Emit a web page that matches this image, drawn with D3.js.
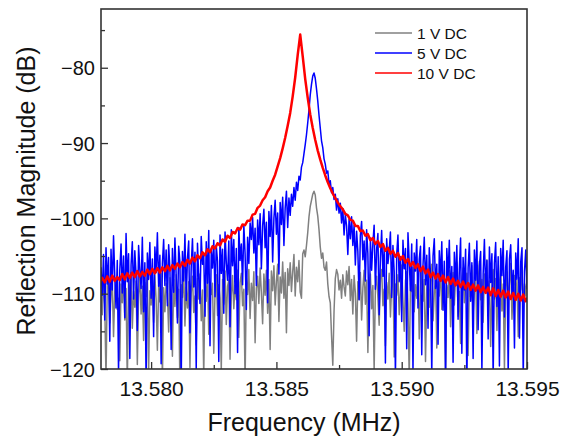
<!DOCTYPE html>
<html>
<head>
<meta charset="utf-8">
<script src="https://cdn.jsdelivr.net/npm/d3@7"></script>
<style>
  html, body { margin: 0; padding: 0; background: #fff; }
  svg { display: block; font-family: "Liberation Sans", Arial, sans-serif; }
</style>
</head>
<body>
<svg id="chart" width="574" height="441"></svg>
<script>
// ---- data ----
const seriesNames = ["1 V DC", "5 V DC", "10 V DC"];
const xTicks = [13.580, 13.585, 13.590, 13.595];
const yTicks = [-120, -110, -100, -90, -80];
const xMinorTicks = [13.5825, 13.5875, 13.5925];
const yMinorTicks = [-115, -105, -95, -85, -75];

// noisy traces sampled every 0.00005 MHz from 13.578 MHz
const noisyStart = 13.578, noisyStep = 0.00005;
const gray1V = [
-109.5,-112.8,-108.1,-111.4,-121.3,-109.0,-107.6,-113.9,-110.2,-108.4,
-115.7,-109.8,-107.9,-112.1,-110.6,-118.9,-108.7,-111.2,-107.4,-113.5,
-109.3,-122.0,-108.0,-110.9,-107.2,-114.6,-109.7,-111.8,-108.3,-119.4,
-110.1,-107.8,-112.7,-109.0,-116.2,-108.5,-110.4,-107.1,-120.7,-109.6,
-111.5,-108.2,-113.8,-107.6,-110.8,-117.5,-108.9,-111.1,-107.3,-121.6,
-109.2,-112.4,-108.6,-110.0,-115.1,-107.9,-109.8,-118.3,-108.1,-111.7,
-107.5,-113.2,-109.4,-122.5,-108.8,-110.5,-107.0,-114.3,-109.1,-111.9,
-108.4,-119.8,-109.9,-107.7,-112.5,-110.3,-116.8,-108.0,-110.7,-107.4,
-113.6,-109.5,-121.0,-108.3,-111.0,-107.2,-115.4,-109.2,-110.1,-108.6,
-117.9,-109.7,-107.5,-112.9,-108.8,-110.6,-120.2,-108.1,-111.4,-107.0,
-114.1,-109.0,-108.2,-118.7,-110.2,-107.6,-112.0,-108.9,-110.8,-106.9,
-115.8,-108.5,-107.3,-111.6,-109.4,-121.9,-108.0,-110.1,-106.8,-113.3,
-108.6,-110.9,-107.1,-116.5,-109.3,-107.7,-111.3,-106.6,-109.9,-114.0,
-107.4,-110.2,-106.9,-112.6,-108.1,-117.4,-107.0,-109.6,-106.3,-111.5,
-108.4,-106.1,-113.7,-107.8,-109.9,-105.8,-110.6,-107.2,-115.2,-106.7,
-108.9,-105.9,-109.7,-107.1,-104.8,-110.3,-106.5,-108.4,-105.6,-109.8,
-110.6,-104.7,-104.2,-105.1,-103.6,-101.9,-99.8,-98.4,-97.6,-96.8,-96.4,
-96.9,-98.6,-99.7,-101.5,-103.8,-105.3,-104.6,-106.5,-106.9,-105.8,
-108.7,-110.4,-111.2,-115.6,-119.5,-112.3,-108.0,-106.8,-107.4,-109.5,
-108.2,-110.6,-107.5,-109.1,-110.3,-107.0,-108.8,-106.4,-110.9,-108.1,
-112.7,-107.6,-109.9,-116.3,-108.4,-110.8,-107.2,-113.5,-109.3,-106.9,
-111.4,-108.2,-117.8,-109.6,-107.4,-112.0,-108.9,-120.3,-109.1,-107.7,
-110.5,-114.2,-108.0,-106.8,-111.6,-109.4,-116.9,-108.5,-110.7,-107.3,
-113.1,-109.0,-106.6,-118.4,-108.7,-110.2,-107.5,-112.8,-109.8,-106.2,
-110.9,-115.0,-108.3,-107.1,-111.3,-121.2,-108.6,-109.7,-106.5,-112.4,
-108.8,-110.6,-107.0,-116.0,-109.2,-106.7,-111.0,-108.1,-119.0,-109.5,
-107.4,-111.8,-108.5,-106.1,-113.6,-109.9,-107.6,-117.2,-108.4,-110.3,
-106.4,-112.1,-109.0,-107.8,-120.6,-108.9,-110.5,-106.9,-114.4,-109.3,
-107.2,-111.5,-108.0,-105.9,-113.0,-109.7,-116.6,-108.2,-106.6,-111.2,
-109.1,-107.3,-118.2,-108.6,-110.4,-106.3,-112.7,-109.5,-107.0,-115.3,
-108.9,-105.7,-110.8,-108.1,-113.8,-107.4,-109.6,-105.5,-111.9,-108.3,
-117.0,-109.2,-106.8,-110.7,-108.0,-114.9,-107.5,-109.8,-106.2,-112.3,
-108.7,-120.0,-109.4,-107.1,-111.1,-108.4,-106.0,-113.4,-109.0,-107.6,
-110.9,-108.2,-115.7,-107.9,-109.5,-106.5,-112.0,-108.7,-110.3,-107.3
];
const blue5V = [
-106.5,-110.2,-104.8,-113.5,-103.9,-108.7,-105.2,-116.3,-104.1,-109.5,
-102.3,-107.8,-111.9,-105.6,-120.5,-106.9,-103.4,-109.9,-105.0,-113.2,
-102.0,-108.4,-104.7,-118.6,-106.2,-103.1,-110.7,-104.3,-107.5,-114.9,
-103.6,-106.8,-109.3,-102.5,-112.4,-105.9,-121.8,-104.6,-108.1,-103.2,
-110.6,-105.4,-115.7,-103.8,-107.2,-101.9,-109.0,-104.9,-119.3,-106.0,
-102.8,-108.9,-104.2,-111.6,-103.5,-106.7,-117.4,-104.0,-109.8,-102.6,
-107.6,-113.9,-103.7,-105.8,-122.4,-104.4,-108.3,-102.1,-110.9,-105.3,
-103.0,-115.2,-106.4,-102.7,-109.1,-104.5,-120.1,-103.3,-107.9,-111.3,
-102.4,-106.1,-104.8,-113.0,-103.1,-108.6,-101.6,-116.9,-104.2,-106.6,
-102.9,-110.4,-103.6,-105.7,-119.0,-102.2,-107.3,-104.1,-112.6,-101.8,
-105.9,-108.2,-103.0,-114.4,-101.5,-106.3,-102.8,-110.0,-104.0,-117.8,
-101.2,-105.6,-103.4,-108.8,-100.9,-104.7,-112.1,-102.5,-106.0,-100.6,
-102.8,-99.9,-104.6,-101.3,-108.9,-100.2,-103.5,-99.4,-106.7,-101.0,
-98.8,-103.9,-100.5,-111.2,-99.1,-102.4,-98.3,-105.8,-100.0,-97.6,
-102.1,-99.3,-107.4,-97.9,-100.8,-97.2,-103.6,-98.6,-96.4,-101.2,
-97.3,-99.6,-96.8,-98.4,-95.9,-97.6,-95.2,-96.3,-94.4,-94.9,
-93.2,-92.6,-91.4,-90.2,-88.9,-87.3,-85.6,-83.6,-82.2,-81.1,-80.7,
-81.4,-82.8,-84.4,-86.3,-88.0,-89.7,-90.6,-92.1,-92.8,-94.0,
-93.7,-95.4,-95.0,-96.6,-95.9,-97.5,-96.8,-98.9,-97.4,-99.3,
-98.0,-100.6,-98.7,-102.2,-99.5,-101.0,-104.8,-100.1,-102.7,-99.8,
-103.6,-100.9,-106.2,-101.7,-104.4,-110.8,-102.3,-100.4,-105.5,-103.0,
-108.3,-101.5,-104.7,-115.6,-102.6,-106.9,-103.3,-100.9,-109.4,-104.1,
-102.0,-112.8,-105.3,-101.6,-107.7,-103.9,-119.2,-102.7,-106.0,-104.4,
-101.8,-110.5,-103.6,-107.1,-121.0,-104.8,-102.2,-108.4,-105.1,-113.7,
-102.9,-106.7,-104.0,-117.3,-101.9,-105.8,-109.6,-103.4,-120.4,-104.6,
-107.0,-102.8,-111.9,-105.4,-103.7,-118.1,-106.2,-102.5,-108.8,-104.9,
-114.6,-103.9,-107.5,-120.8,-105.0,-102.7,-109.3,-106.1,-116.7,-104.3,
-108.0,-103.1,-112.2,-105.7,-121.5,-104.0,-107.8,-102.9,-110.6,-106.4,
-119.1,-104.5,-108.7,-103.6,-113.4,-106.8,-102.6,-117.9,-105.2,-109.5,
-104.1,-122.0,-106.6,-103.3,-111.0,-105.9,-118.6,-104.2,-108.2,-103.0,
-114.8,-106.3,-104.4,-120.2,-107.4,-102.8,-109.9,-105.6,-116.0,-103.8,
-108.5,-104.7,-121.3,-106.0,-103.2,-111.7,-105.1,-119.6,-104.0,-107.6,
-102.9,-113.1,-106.5,-104.3,-120.7,-105.4,-103.5,-110.2,-106.9,-117.2,
-104.6,-108.1,-102.7,-115.9,-105.8,-103.9,-121.1,-107.0,-104.2,-109.4
];
// 10 V trace sampled every 0.0001 MHz from 13.57795 MHz
const redStart = 13.57795, redStep = 0.0001;
const red10V = [
-108.6,-107.9,-108.5,-107.7,-108.4,-107.6,-108.3,-107.8,-108.2,-107.4,
-108.1,-107.3,-107.9,-107.2,-107.8,-107.0,-107.7,-107.1,-107.6,-106.8,
-107.4,-106.7,-107.3,-106.6,-107.2,-106.5,-107.0,-106.3,-106.9,-106.2,
-106.7,-106.0,-106.5,-105.8,-106.3,-105.5,-106.0,-105.2,-105.7,-104.9,
-105.3,-104.5,-104.9,-104.1,-104.5,-103.7,-104.0,-103.3,-103.6,-102.8,
-103.1,-102.3,-102.6,-101.8,-102.0,-101.3,-101.5,-100.8,-100.9,-100.3,
-100.3,-99.5,-99.4,-98.6,-98.3,-97.6,-97.2,-96.4,-95.9,-95.0,
-94.2,-93.1,-92.0,-90.7,-89.3,-87.7,-86.0,-83.8,-81.3,-78.3,
-75.6,
-78.5,-81.5,-84.0,-86.2,-88.0,-89.6,-91.0,-92.2,-93.3,-94.3,
-95.2,-96.0,-96.7,-97.3,-97.9,-98.4,-98.8,-99.4,-99.6,-100.2,
-100.3,-101.0,-101.0,-101.7,-101.6,-102.3,-102.1,-102.9,-102.6,-103.4,
-103.0,-103.8,-103.4,-104.3,-103.9,-104.7,-104.3,-105.1,-104.6,-105.5,
-105.0,-105.9,-105.4,-106.3,-105.8,-106.6,-106.1,-107.0,-106.4,-107.3,
-106.8,-107.8,-107.2,-108.0,-107.4,-108.3,-107.6,-108.5,-107.8,-108.7,
-108.0,-108.9,-108.3,-109.1,-108.4,-109.3,-108.6,-109.5,-108.8,-109.6,
-108.9,-109.8,-109.1,-109.9,-109.2,-110.2,-109.3,-110.3,-109.5,-110.4,
-109.6,-110.5,-109.7,-110.7,-109.9,-110.8,-110.0,-110.9,-110.1,-111.0,
-110.4
];
const colors = ["#808080", "#0000ff", "#ff0000"];

// ---- layout ----
const svg = d3.select("#chart");
const margin = { left: 101, right: 527, top: 9, bottom: 369 };
const x = d3.scaleLinear().domain([13.578, 13.595]).range([margin.left, margin.right]);
const y = d3.scaleLinear().domain([-120, -72.2]).range([margin.bottom, margin.top]);

svg.append("defs").append("clipPath").attr("id", "plotClip")
  .append("rect")
  .attr("x", margin.left).attr("y", margin.top)
  .attr("width", margin.right - margin.left).attr("height", margin.bottom - margin.top);

const series = [
  { name: seriesNames[0], start: noisyStart, step: noisyStep, values: gray1V, color: colors[0], width: 1.5 },
  { name: seriesNames[1], start: noisyStart, step: noisyStep, values: blue5V, color: colors[1], width: 1.5 },
  { name: seriesNames[2], start: redStart, step: redStep, values: red10V, color: colors[2], width: 2.5 }
];

const plot = svg.append("g").attr("clip-path", "url(#plotClip)");
series.forEach(s => {
  const line = d3.line()
    .x((d, i) => x(s.start + s.step * i))
    .y(d => y(d));
  plot.append("path")
    .datum(s.values)
    .attr("fill", "none")
    .attr("stroke", s.color)
    .attr("stroke-width", s.width)
    .attr("stroke-linejoin", "round")
    .attr("d", line);
});

// axes
const axisColor = "#333";
const xAxis = d3.axisBottom(x).tickValues(xTicks).tickFormat(d3.format(".3f"))
  .tickSizeInner(-7).tickSizeOuter(0).tickPadding(12);
const gx = svg.append("g").attr("transform", `translate(0,${margin.bottom})`).call(xAxis);
const yAxis = d3.axisLeft(y).tickValues(yTicks).tickFormat(d3.format("d"))
  .tickSizeInner(-7).tickSizeOuter(0).tickPadding(6);
const gy = svg.append("g").attr("transform", `translate(${margin.left},0)`).call(yAxis);

[gx, gy].forEach(g => {
  g.select(".domain").remove();
  g.selectAll(".tick line").attr("stroke", axisColor).attr("stroke-width", 1.3);
  g.selectAll(".tick text").attr("fill", "#111")
    .style("font-family", "'Liberation Sans', Arial, sans-serif");
});
gx.selectAll(".tick text").style("font-size", "21px");
gy.selectAll(".tick text").style("font-size", "20px").attr("dy", "0.36em");

// minor ticks
const gxm = svg.append("g").attr("transform", `translate(0,${margin.bottom})`)
  .call(d3.axisBottom(x).tickValues(xMinorTicks).tickFormat("").tickSizeInner(-4).tickSizeOuter(0));
const gym = svg.append("g").attr("transform", `translate(${margin.left},0)`)
  .call(d3.axisLeft(y).tickValues(yMinorTicks).tickFormat("").tickSizeInner(-4).tickSizeOuter(0));
[gxm, gym].forEach(g => {
  g.select(".domain").remove();
  g.selectAll(".tick line").attr("stroke", axisColor).attr("stroke-width", 1.3);
});

// frame
svg.append("rect")
  .attr("x", margin.left).attr("y", margin.top)
  .attr("width", margin.right - margin.left).attr("height", margin.bottom - margin.top)
  .attr("fill", "none").attr("stroke", axisColor).attr("stroke-width", 1.6);

// axis titles
svg.append("text")
  .attr("x", 304).attr("y", 431)
  .attr("text-anchor", "middle")
  .style("font-size", "25px").attr("fill", "#111")
  .text("Frequency (MHz)");
svg.append("text")
  .attr("transform", `translate(35,191) rotate(-90)`)
  .attr("text-anchor", "middle")
  .style("font-size", "25px").attr("fill", "#111")
  .text("Reflection Magnitude (dB)");

// legend
const legend = svg.append("g");
series.forEach((s, i) => {
  const ly = 33 + i * 20;
  legend.append("line")
    .attr("x1", 375).attr("x2", 412).attr("y1", ly).attr("y2", ly)
    .attr("stroke", s.color).attr("stroke-width", 1.5);
  legend.append("text")
    .attr("x", 417).attr("y", ly).attr("dy", "0.36em")
    .style("font-size", "15.5px").attr("fill", "#111")
    .text(s.name);
});
</script>
</body>
</html>
